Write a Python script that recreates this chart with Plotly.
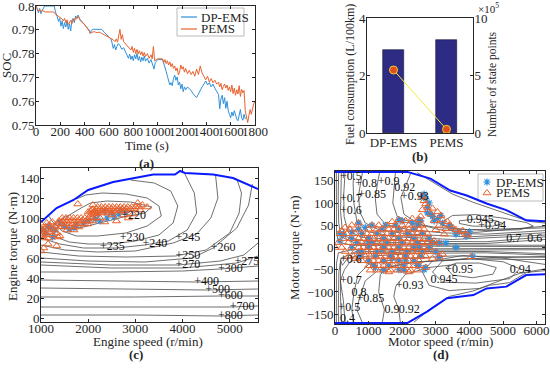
import plotly.graph_objects as go

FONT = "Liberation Serif"
W, H = 550, 369

# ---------------- (a) SOC ----------------
dp_t = [0, 10, 20, 30, 40, 50, 60, 70, 150, 160, 175, 185, 195, 205, 215, 225, 235, 245, 255, 265, 275, 285, 295, 305, 315, 325, 335, 345, 360, 375, 390, 405, 420, 435, 445, 455, 470, 540, 560, 580, 600, 615, 625, 635, 645, 655, 665, 675, 690, 705, 720, 735, 750, 760, 770, 780, 790, 800, 810, 820, 830, 840, 850, 860, 870, 880, 890, 900, 915, 930, 945, 960, 970, 980, 990, 1000, 1040, 1050, 1060, 1070, 1080, 1090, 1100, 1110, 1120, 1130, 1140, 1150, 1160, 1170, 1180, 1190, 1200, 1210, 1220, 1230, 1245, 1260, 1275, 1290, 1305, 1320, 1335, 1350, 1365, 1380, 1395, 1410, 1425, 1440, 1455, 1470, 1485, 1500, 1510, 1520, 1530, 1540, 1550, 1560, 1570, 1580, 1590, 1600, 1610, 1620, 1630, 1640, 1650, 1660, 1670, 1680, 1690, 1700, 1710, 1720]
dp_soc = [0.8000, 0.7985, 0.7972, 0.7990, 0.7968, 0.7980, 0.7992, 0.8000, 0.8000, 0.7975, 0.7955, 0.7935, 0.7948, 0.7915, 0.7938, 0.7905, 0.7930, 0.7912, 0.7935, 0.7902, 0.7925, 0.7895, 0.7940, 0.7948, 0.7930, 0.7958, 0.7950, 0.7962, 0.7945, 0.7935, 0.7925, 0.7918, 0.7905, 0.7900, 0.7885, 0.7898, 0.7902, 0.7902, 0.7890, 0.7880, 0.7870, 0.7862, 0.7845, 0.7822, 0.7838, 0.7815, 0.7830, 0.7842, 0.7835, 0.7818, 0.7825, 0.7810, 0.7795, 0.7780, 0.7798, 0.7775, 0.7790, 0.7770, 0.7795, 0.7778, 0.7800, 0.7772, 0.7788, 0.7765, 0.7785, 0.7770, 0.7790, 0.7768, 0.7780, 0.7760, 0.7775, 0.7752, 0.7735, 0.7762, 0.7770, 0.7775, 0.7775, 0.7760, 0.7745, 0.7725, 0.7705, 0.7690, 0.7668, 0.7678, 0.7665, 0.7695, 0.7710, 0.7688, 0.7702, 0.7668, 0.7680, 0.7652, 0.7672, 0.7640, 0.7660, 0.7648, 0.7660, 0.7652, 0.7645, 0.7632, 0.7625, 0.7615, 0.7630, 0.7648, 0.7660, 0.7672, 0.7685, 0.7668, 0.7678, 0.7660, 0.7672, 0.7655, 0.7642, 0.7628, 0.7568, 0.7610, 0.7625, 0.7590, 0.7615, 0.7570, 0.7600, 0.7560, 0.7545, 0.7530, 0.7555, 0.7538, 0.7560, 0.7535, 0.7525, 0.7518, 0.7545, 0.7565, 0.7530, 0.7520, 0.7545, 0.7525]
pe_t = [0, 10, 20, 30, 40, 50, 60, 75, 100, 145, 155, 170, 185, 200, 215, 225, 235, 245, 255, 265, 275, 285, 295, 305, 315, 325, 335, 345, 355, 365, 380, 395, 410, 425, 440, 450, 460, 480, 500, 520, 540, 560, 580, 600, 620, 635, 650, 660, 670, 680, 690, 700, 710, 720, 735, 750, 765, 780, 790, 800, 810, 820, 830, 840, 850, 860, 870, 880, 890, 900, 915, 930, 945, 955, 965, 975, 990, 1000, 1040, 1050, 1060, 1070, 1080, 1090, 1100, 1110, 1120, 1130, 1140, 1150, 1160, 1170, 1180, 1190, 1200, 1210, 1220, 1230, 1245, 1260, 1275, 1290, 1305, 1320, 1335, 1350, 1365, 1380, 1395, 1410, 1425, 1440, 1455, 1470, 1485, 1500, 1510, 1520, 1530, 1540, 1550, 1560, 1570, 1580, 1590, 1600, 1610, 1620, 1630, 1640, 1650, 1660, 1670, 1680, 1690, 1700, 1710, 1720, 1730, 1740, 1750, 1760, 1770, 1780, 1790, 1800]
pe_soc = [0.8000, 0.7990, 0.7978, 0.7985, 0.7975, 0.7982, 0.7978, 0.7975, 0.7975, 0.7975, 0.7968, 0.7962, 0.7958, 0.7952, 0.7945, 0.7938, 0.7948, 0.7930, 0.7942, 0.7922, 0.7935, 0.7940, 0.7925, 0.7945, 0.7938, 0.7950, 0.7945, 0.7958, 0.7950, 0.7938, 0.7930, 0.7925, 0.7915, 0.7905, 0.7895, 0.7885, 0.7890, 0.7892, 0.7888, 0.7890, 0.7885, 0.7880, 0.7872, 0.7868, 0.7862, 0.7858, 0.7850, 0.7862, 0.7848, 0.7875, 0.7902, 0.7860, 0.7880, 0.7850, 0.7842, 0.7835, 0.7825, 0.7815, 0.7830, 0.7805, 0.7822, 0.7800, 0.7818, 0.7798, 0.7812, 0.7795, 0.7808, 0.7790, 0.7805, 0.7788, 0.7800, 0.7780, 0.7795, 0.7778, 0.7830, 0.7770, 0.7775, 0.7778, 0.7778, 0.7762, 0.7775, 0.7758, 0.7770, 0.7752, 0.7765, 0.7745, 0.7758, 0.7738, 0.7748, 0.7728, 0.7740, 0.7710, 0.7722, 0.7752, 0.7735, 0.7745, 0.7722, 0.7738, 0.7715, 0.7730, 0.7712, 0.7725, 0.7705, 0.7735, 0.7712, 0.7748, 0.7718, 0.7705, 0.7690, 0.7705, 0.7680, 0.7695, 0.7678, 0.7688, 0.7672, 0.7680, 0.7660, 0.7675, 0.7648, 0.7662, 0.7672, 0.7655, 0.7668, 0.7645, 0.7660, 0.7640, 0.7668, 0.7632, 0.7655, 0.7625, 0.7648, 0.7630, 0.7665, 0.7620, 0.7650, 0.7635, 0.7645, 0.7560, 0.7525, 0.7510, 0.7540, 0.7565, 0.7545, 0.7575, 0.7590, 0.7600]

# ---------------- (b) fuel / state points ----------------
strategies = ["DP-EMS", "PEMS"]
fuel_l100km = [2.88, 3.22]
state_points = [548000, 32000]

# ---------------- (c) engine map ----------------
eng_max_speed = [1000, 1330, 1690, 2000, 2530, 3030, 3380, 3840, 3950, 4050, 4650, 5070, 5600]
eng_max_torque = [96, 110, 118, 128, 136, 140, 143.5, 143.5, 147, 145, 143.5, 140, 129]
bsfc_levels = ["220", "230", "235", "240", "245", "250", "260", "270", "275", "300", "400", "500", "600", "700", "800"]
bsfc_speed = [
    [1350, 1600, 1850, 2050, 2400, 2900, 3350, 3200, 2750, 2300, 1900, 1650, 1450, 1350],
    [1150, 1250, 1450, 1750, 2200, 2800, 3250, 3550, 3500, 3250, 2800, 2300, 1950, 1750],
    [1000, 1250, 1600, 2000, 2500, 3000, 3500, 3800, 3900, 3750, 3400, 2900],
    [1000, 1400, 1900, 2600, 3200, 3700, 4100, 4300, 4250, 4050],
    [1000, 1500, 2200, 3000, 3800, 4300, 4600, 4750, 4700],
    [1000, 1800, 2800, 3850, 4500, 5000, 5200, 5250, 5150],
    [1000, 2000, 3200, 4200, 4650, 5150, 5400, 5480],
    [1000, 2500, 3900, 4800, 5300, 5600],
    [1000, 2500, 4000, 5150, 5600],
    [1000, 2500, 4000, 4800, 5600],
    [1000, 2500, 4300, 5600],
    [1000, 2500, 4500, 5600],
    [1000, 3000, 4800, 5600],
    [1000, 3000, 5000, 5600],
    [1000, 3000, 4800, 5600],
]
bsfc_torque = [
    [97, 103, 110, 115, 117, 116, 111, 105, 101, 96, 91, 89, 92, 97],
    [103, 96, 87, 82, 82, 85, 92, 102, 112, 120, 124, 125, 123, 119],
    [88, 82, 76, 74, 74, 77, 83, 95, 112, 127, 135, 138],
    [80, 74, 70, 70, 73, 77, 88, 105, 125, 144],
    [73, 68, 66, 67, 75, 84, 100, 120, 143],
    [66, 62, 61, 62, 68, 85, 105, 125, 139],
    [60, 57, 56, 60, 70, 90, 113, 134],
    [56, 53, 53, 57, 63, 75],
    [53, 50, 50, 55, 62],
    [46, 46, 47, 49, 52],
    [38, 37, 36, 37],
    [30, 29, 28, 29],
    [21, 21, 22, 22],
    [11, 11, 11, 12],
    [3, 3, 2, 3],
]
bsfc_label_speed = [2700, 2670, 2250, 3150, 3850, 3850, 4600, 3850, 5100, 4750, 4250, 4480, 4750, 5000, 4750]
bsfc_label_torque = [102, 80, 71, 74, 80, 62, 70, 53, 56, 49, 36, 28, 22, 11, 2]

c_dp_speed = [1050, 1100, 1250, 1200, 1500, 1600, 1700, 1750, 1900, 2000, 2150, 2250, 2400, 2550, 2650, 2800, 2200, 2350, 1400, 1300, 1150, 2500, 2700]
c_dp_torque = [88, 85, 81, 90, 92, 89, 90, 93, 95, 97, 99, 97, 100, 101, 104, 106, 104, 107, 95, 88, 92, 105, 108]

c_pe_speed = [1000, 1000, 1000, 1030, 1040, 1060, 1080, 1100, 1110, 1140, 1160, 1180, 1200, 1230, 1250, 1280, 1300, 1330, 1360, 1020, 1120, 1060, 1150, 1330, 1000, 1240, 1400,
              1400, 1500, 1600, 1700, 1800,
              1350, 1430, 1510, 1590, 1670, 1750, 1830, 1910, 1990,
              1380, 1460, 1540, 1620, 1700, 1780, 1860, 1940, 2020, 2100,
              1450, 1530, 1610, 1690, 1770, 1850, 1930, 2010, 2090, 2170, 2250,
              2050, 2120, 2000, 2080, 2150,
              2100, 2200, 2300, 2400, 2500,
              2050, 2130, 2210, 2290, 2370, 2450, 2530, 2610, 2690, 2770,
              2100, 2180, 2260, 2340, 2420, 2500, 2580, 2660, 2740, 2820, 2900, 2980,
              2200, 2280, 2360, 2440, 2520, 2600, 2680, 2760, 2840, 2920, 3000, 3080,
              1780, 3150, 3250, 3100, 2950, 2750, 2500, 2600, 2350, 2850, 1700, 1550, 3050, 2100]
c_pe_torque = [82, 86, 90, 84, 88, 80, 86, 91, 83, 88, 80, 93, 86, 90, 83, 88, 92, 85, 81, 93, 95, 70, 74, 72, 67, 96, 82,
               91, 91, 91, 91, 91,
               94, 94, 94, 94, 94, 94, 94, 94, 94,
               97, 97, 97, 97, 97, 97, 97, 97, 97, 97,
               100, 100, 100, 100, 100, 100, 100, 100, 100, 100, 100,
               103, 104, 106, 108, 106,
               105, 105, 105, 105, 105,
               107, 107, 107, 107, 107, 107, 107, 107, 107, 107,
               109, 109, 109, 109, 109, 109, 109, 109, 109, 109, 109, 109,
               111, 111, 111, 111, 111, 111, 111, 111, 111, 111, 111, 111,
               114, 113, 111, 108, 104, 103, 103, 97, 96, 100, 88, 88, 115, 113]

# ---------------- (d) motor map ----------------
mot_max_speed = [0, 2150, 2840, 3430, 3920, 4510, 5100, 5690, 6250]
mot_max_torque = [170, 170, 155, 128, 117, 99, 84, 61, 59]
mot_min_speed = [0, 2150, 2740, 3330, 4120, 4510, 5100, 5690, 6250]
mot_min_torque = [-170, -170, -144, -114, -107, -92, -88, -62, -60]

eff_speed = [
    [40, 35, 45, 100, 500, 2500, 6250],
    [110, 95, 110, 180, 600, 2500, 6250],
    [190, 170, 165, 210, 340, 900, 2500, 4500, 5640, 6250],
    [300, 260, 270, 380, 800, 2500, 4500, 5150, 6250],
    [560, 540, 560, 650, 950, 1800, 3500, 6250],
    [820, 700, 740, 900, 1300, 2200, 4000, 6250],
    [1330, 1270, 1200, 1250, 1500, 2200, 3200, 4500, 6250],
    [1800, 1760, 1720, 1850, 2300, 3000, 4000, 6250],
    [2250, 1960, 2050, 2500, 3100, 4200, 6250],
    [2450, 2900, 3500, 4100, 4700, 5300, 5750, 6250],
    [3200, 3500, 4200, 5000, 5700, 5900, 5500, 4500, 3600, 3200, 3200],
    [3700, 4200, 4800, 5000, 4700, 4100, 3700, 3700],
    [40, 35, 45, 100, 500, 2500, 6250],
    [110, 100, 115, 180, 600, 2500, 6250],
    [190, 165, 165, 220, 380, 900, 2500, 4500, 6250],
    [300, 250, 160, 280, 450, 900, 2500, 4500, 6250],
    [560, 500, 560, 680, 1000, 1800, 3500, 6250],
    [820, 650, 720, 900, 1300, 2200, 4000, 6250],
    [1400, 1470, 1300, 1350, 1700, 2500, 4000, 6250],
    [1950, 1900, 1750, 1810, 2100, 2800, 3600],
    [2350, 2850, 3400, 4100, 4600, 5200, 5700, 6250],
    [6250, 5000, 3800, 2900, 2600, 2800, 3400, 4300, 5000, 5500, 6250],
    [2900, 3200, 4000, 5000, 5500, 5200, 4200, 3200, 2900],
    [3300, 3600, 4300, 4800, 4700, 4100, 3500, 3300],
]
eff_torque = [
    [170, 90, 35, 12, 5, 3, 2],
    [170, 115, 55, 24, 10, 6, 5],
    [170, 110, 81, 45, 24, 14, 9, 9, 15, 18],
    [170, 120, 70, 38, 23, 14, 13, 17, 24],
    [170, 143, 100, 60, 36, 24, 18, 28],
    [170, 117, 80, 55, 40, 30, 24, 33],
    [170, 147, 110, 75, 52, 40, 33, 30, 38],
    [170, 134, 100, 70, 55, 45, 40, 44],
    [166, 113, 75, 52, 40, 34, 48],
    [168, 147, 120, 102, 86, 71, 59, 55],
    [58, 72, 74, 66, 56, 48, 40, 38, 42, 50, 58],
    [60, 64, 60, 54, 48, 48, 54, 60],
    [-170, -100, -35, -12, -5, -3, -2],
    [-170, -137, -55, -24, -10, -6, -5],
    [-170, -110, -28, -40, -24, -14, -9, -9, -14],
    [-170, -120, -75, -50, -32, -20, -13, -12, -17],
    [-170, -140, -103, -62, -38, -26, -19, -22],
    [-170, -140, -116, -75, -50, -34, -26, -27],
    [-172, -140, -100, -60, -42, -32, -25, -20],
    [-172, -140, -110, -87, -60, -45, -38],
    [-168, -137, -110, -98, -85, -79, -56, -52],
    [-38, -24, -18, -30, -55, -85, -97, -92, -72, -58, -48],
    [-55, -30, -25, -32, -48, -70, -80, -78, -55],
    [-45, -35, -35, -45, -60, -68, -62, -45],
]
eff_labels = ["+0.5", "+0.8", "+0.9", "0.92", "+0.85", "+0.7", "+0.93", "+0.6", "0.945", "+0.94", "0.7", "0.6",
              "+0.6", "+0.95", "0.94", "0.945", "+0.7", "+0.93", "0.8", "+0.85", "+0.5", "0.9", "0.92", "0.4"]
eff_label_speed = [150, 600, 1270, 1760, 690, 150, 1960, 150, 3920, 4260, 5100, 5720,
                   150, 3280, 5200, 2840, 150, 1810, 490, 640, 100, 1470, 1900, 150]
eff_label_torque = [158, 143, 147, 134, 117, 110, 113, 81, 61, 48, 19, 19,
                    -28, -51, -51, -73, -75, -87, -103, -116, -137, -140, -140, -160]

d_row_torque = [50, 41, 31, 20, 11, 0, -9, -20, -30, -41, -51]
d_row_speeds = [
    [1100, 1300, 1550, 1800, 2000, 2200, 2450, 2600],
    [450, 700, 1000, 1250, 1400, 1600, 1750, 1900, 2050, 2200, 2350, 2500, 2650],
    [150, 350, 600, 800, 950, 1100, 1250, 1400, 1550, 1700, 1850, 2000, 2150, 2300, 2450, 2600, 2750],
    [250, 500, 700, 850, 1000, 1150, 1300, 1450, 1600, 1750, 1900, 2050, 2200, 2350, 2500, 2650, 2800],
    [100, 400, 650, 800, 950, 1100, 1250, 1400, 1550, 1700, 1850, 2000, 2150, 2300, 2450, 2600, 2750, 2900],
    [0, 200, 500, 700, 850, 1000, 1150, 1300, 1450, 1600, 1750, 1900, 2050, 2200, 2350, 2500, 2650, 2800],
    [300, 600, 800, 950, 1100, 1250, 1400, 1550, 1700, 1850, 2000, 2150, 2300, 2450, 2600, 2750],
    [550, 750, 900, 1050, 1200, 1350, 1500, 1650, 1800, 1950, 2100, 2250, 2400, 2550, 2700],
    [800, 1000, 1150, 1300, 1450, 1600, 1750, 1900, 2050, 2200, 2350, 2500],
    [1000, 1150, 1300, 1450, 1600, 1750, 1900, 2050, 2200, 2350, 2500],
    [1050, 1250, 1450, 1650, 1850, 2050, 2250, 2450],
]
d_pe_extra_speed = [2600, 2650, 2700, 2750, 2600, 2900, 2850, 2550, 3050, 3150, 3200, 3350, 3400, 3500, 3600, 3700, 3800, 3900, 3950, 3300, 3100, 2950, 3000, 3250, 2500, 2300, 2100, 1900, 1700, 500, 700, 300, 200, 3000, 3200, 2900, 3100, 4050, 2950, 3100, 2200, 1600, 2700, 600, 400]
d_pe_extra_torque = [115, 105, 98, 90, 85, 88, 75, 70, 80, 72, 62, 58, 50, 45, 40, 35, 38, 30, 28, 42, 50, 60, 40, 30, 62, 65, 60, 62, 58, 50, 55, 45, 38, -10, -15, -25, -22, -21, 15, 10, -55, -55, -45, -25, -20]
d_dp_speed = [2650, 2700, 2800, 2750, 2900, 3050, 3200, 3450, 3600, 3900, 4000, 2550, 2300, 2000, 1500, 900, 500, 250, 150, 2650, 2450, 2100, 1700, 4100, 3600, 3300, 1200, 1900, 700, 2500, 2800, 1000, 1400, 2200]
d_dp_torque = [120, 110, 100, 78, 70, 65, 55, 45, 30, 25, 35, 60, 55, 60, 50, 45, 35, 30, 15, -50, -40, -30, -25, -20, 0, 10, -45, -50, -10, 0, 20, 10, -5, 30]

# ---------------- build ----------------
BLUE = "#2f90dc"
ORANGE = "#e8622e"
GRAY = "#4a4a4a"
AXC = "#262626"


def px_x(p):
    return p / W


def px_y(p):
    return 1 - p / H


DP_MARK = dict(symbol="asterisk-open", size=6, color=BLUE, line=dict(color=BLUE, width=1.2))
PE_MARK = dict(symbol="triangle-up-open", size=7, color=ORANGE, line=dict(color=ORANGE, width=1))

fig = go.Figure()

# (a)
fig.add_trace(go.Scatter(x=dp_t, y=dp_soc, mode="lines", name="DP-EMS", line=dict(color=BLUE, width=1),
                         xaxis="x", yaxis="y", showlegend=False))
fig.add_trace(go.Scatter(x=pe_t, y=pe_soc, mode="lines", name="PEMS", line=dict(color=ORANGE, width=1),
                         xaxis="x", yaxis="y", showlegend=False))

# (b)
fig.add_trace(go.Bar(x=strategies, y=fuel_l100km, width=0.4, marker=dict(color="#2e2b85", line=dict(color="#111133", width=0.6)),
                     xaxis="x2", yaxis="y2", showlegend=False))
fig.add_trace(go.Scatter(x=strategies, y=state_points, mode="lines+markers", line=dict(color="#f3ea3a", width=1),
                         marker=dict(size=8, color="#e0501c", line=dict(color="#f0cf30", width=1)),
                         xaxis="x2", yaxis="y5", showlegend=False))

# (c)
for sp, tq in zip(bsfc_speed, bsfc_torque):
    fig.add_trace(go.Scatter(x=sp, y=tq, mode="lines", line=dict(color=GRAY, width=0.8),
                             xaxis="x3", yaxis="y3", showlegend=False, hoverinfo="skip"))
fig.add_trace(go.Scatter(x=c_dp_speed, y=c_dp_torque, mode="markers", marker=DP_MARK,
                         xaxis="x3", yaxis="y3", showlegend=False))
fig.add_trace(go.Scatter(x=c_pe_speed, y=c_pe_torque, mode="markers", marker=PE_MARK,
                         xaxis="x3", yaxis="y3", showlegend=False))
fig.add_trace(go.Scatter(x=eng_max_speed, y=eng_max_torque, mode="lines", line=dict(color="#0a1aff", width=2),
                         xaxis="x3", yaxis="y3", showlegend=False))
fig.add_trace(go.Scatter(x=bsfc_label_speed, y=bsfc_label_torque, mode="text",
                         text=["+" + s for s in bsfc_levels], textposition="middle right",
                         textfont=dict(family=FONT, size=12, color="#111111"),
                         xaxis="x3", yaxis="y3", showlegend=False, cliponaxis=False))

# (d)
for sp, tq in zip(eff_speed, eff_torque):
    fig.add_trace(go.Scatter(x=sp, y=tq, mode="lines", line=dict(color=GRAY, width=0.8),
                             xaxis="x4", yaxis="y4", showlegend=False, hoverinfo="skip"))
d_pe_speed = []
d_pe_torque = []
for tq, row in zip(d_row_torque, d_row_speeds):
    d_pe_speed += row
    d_pe_torque += [tq] * len(row)
d_pe_speed += d_pe_extra_speed
d_pe_torque += d_pe_extra_torque
d_dp_all_speed = d_dp_speed + d_pe_speed[::3]
d_dp_all_torque = d_dp_torque + d_pe_torque[::3]
fig.add_trace(go.Scatter(x=d_dp_all_speed, y=d_dp_all_torque, mode="markers", marker=DP_MARK,
                         xaxis="x4", yaxis="y4", showlegend=False))
fig.add_trace(go.Scatter(x=d_pe_speed, y=d_pe_torque, mode="markers", marker=PE_MARK,
                         xaxis="x4", yaxis="y4", showlegend=False))
fig.add_trace(go.Scatter(x=mot_max_speed, y=mot_max_torque, mode="lines", line=dict(color="#0a1aff", width=2),
                         xaxis="x4", yaxis="y4", showlegend=False))
fig.add_trace(go.Scatter(x=mot_min_speed, y=mot_min_torque, mode="lines", line=dict(color="#0a1aff", width=2),
                         xaxis="x4", yaxis="y4", showlegend=False))
fig.add_trace(go.Scatter(x=eff_label_speed, y=eff_label_torque, mode="text", text=eff_labels,
                         textposition="middle right", textfont=dict(family=FONT, size=12, color="#111111"),
                         xaxis="x4", yaxis="y4", showlegend=False, cliponaxis=False))

# legend keys drawn on a full-page pixel overlay (x5 / y6)
fig.add_trace(go.Scatter(x=[181, 197], y=[17, 17], mode="lines", line=dict(color=BLUE, width=1.2),
                         xaxis="x5", yaxis="y6", showlegend=False, hoverinfo="skip"))
fig.add_trace(go.Scatter(x=[181, 197], y=[29, 29], mode="lines", line=dict(color=ORANGE, width=1.2),
                         xaxis="x5", yaxis="y6", showlegend=False, hoverinfo="skip"))
fig.add_trace(go.Scatter(x=[487], y=[182], mode="markers", marker=DP_MARK,
                         xaxis="x5", yaxis="y6", showlegend=False, hoverinfo="skip"))
fig.add_trace(go.Scatter(x=[487], y=[193], mode="markers", marker=PE_MARK,
                         xaxis="x5", yaxis="y6", showlegend=False, hoverinfo="skip"))


def axis(domain, anchor, rng, tickvals=None, ticktext=None, mirror="ticks", standoff=0, **kw):
    d = dict(domain=domain, anchor=anchor, range=rng, showline=True, mirror=mirror, linecolor=AXC,
             linewidth=0.8, ticks="inside", ticklen=3, tickcolor=AXC, tickwidth=0.8, showgrid=False,
             zeroline=False, tickfont=dict(family=FONT, size=13, color=AXC), automargin=False,
             ticklabelstandoff=standoff, ticklabeloverflow="allow", tickangle=0)
    if tickvals is not None:
        d["tickvals"] = tickvals
    if ticktext is not None:
        d["ticktext"] = ticktext
    d.update(kw)
    return d


a_dom_x = [px_x(36), px_x(255)]
a_dom_y = [px_y(125), px_y(6)]
b_dom_x = [px_x(367), px_x(473)]
b_dom_y = [px_y(133), px_y(18)]
c_dom_x = [px_x(41), px_x(258)]
c_dom_y = [px_y(322), px_y(168)]
d_dom_x = [px_x(335), px_x(545)]
d_dom_y = [px_y(324), px_y(171)]

XS = -6
YS = -2
fig.update_layout(
    width=W, height=H, margin=dict(l=0, r=0, t=0, b=0),
    paper_bgcolor="white", plot_bgcolor="rgba(0,0,0,0)",
    font=dict(family=FONT, size=13, color=AXC),
    showlegend=False,
    xaxis=axis(a_dom_x, "y", [0, 1800], list(range(0, 1801, 200)), standoff=XS),
    yaxis=axis(a_dom_y, "x", [0.75, 0.80], [0.75, 0.76, 0.77, 0.78, 0.79, 0.80],
               ["0.75", "0.76", "0.77", "0.78", "0.79", "0.8"], standoff=YS),
    xaxis2=axis(b_dom_x, "y2", [-0.5, 1.5], mirror=True, type="category", ticks="", standoff=-3),
    yaxis2=axis(b_dom_y, "x2", [0, 4], [0, 2, 4], mirror=False, standoff=YS),
    yaxis5=axis(b_dom_y, "x2", [0, 1000000], [0, 500000, 1000000], ["0", "5", "10"], mirror=False,
                overlaying="y2", side="right", standoff=YS),
    xaxis3=axis(c_dom_x, "y3", [1000, 5600], [1000, 2000, 3000, 4000, 5000], standoff=XS),
    yaxis3=axis(c_dom_y, "x3", [-4, 150], list(range(0, 141, 20)), standoff=YS),
    xaxis4=axis(d_dom_x, "y4", [0, 6250], list(range(0, 6001, 1000)), standoff=XS),
    yaxis4=axis(d_dom_y, "x4", [-172, 172], [-150, -100, -50, 0, 50, 100, 150], standoff=YS),
    xaxis5=dict(domain=[0, 1], range=[0, W], visible=False, anchor="y6", fixedrange=True),
    yaxis6=dict(domain=[0, 1], range=[H, 0], visible=False, anchor="x5", fixedrange=True),
    bargap=0,
)

shapes = [
    dict(type="rect", xref="paper", yref="paper", x0=px_x(177), x1=px_x(244), y0=px_y(36), y1=px_y(8),
         line=dict(color="#aaaaaa", width=0.8), fillcolor="white", layer="below"),
    dict(type="rect", xref="paper", yref="paper", x0=px_x(478), x1=px_x(543), y0=px_y(201), y1=px_y(174),
         line=dict(color="#aaaaaa", width=0.8), fillcolor="white", layer="below"),
]

ann = []


def txt(x, y, s, angle=0, bold=False, size=13, anchor="center"):
    ann.append(dict(x=px_x(x), y=px_y(y), xref="paper", yref="paper", text=("<b>%s</b>" % s) if bold else s,
                    showarrow=False, textangle=angle, font=dict(family=FONT, size=size, color=AXC),
                    xanchor=anchor, yanchor="middle"))


txt(7, 66, "SOC", -90)
txt(147, 146, "Time (s)")
txt(146, 163, "(a)", bold=True)
txt(199, 17, "DP-EMS", anchor="left")
txt(199, 29, "PEMS", anchor="left")
txt(350, 75, "Fuel consumption (L/100km)", -90, size=12)
txt(492, 84, "Number of state points", -90, size=11.5)
txt(488, 8, "×10<sup>5</sup>", size=11)
txt(420, 156, "(b)", bold=True)
txt(12, 247, "Engine torque (N·m)", -90)
txt(148, 341, "Engine speed (r/min)")
txt(136, 354, "(c)", bold=True)
txt(494, 182, "DP-EMS", anchor="left")
txt(494, 193, "PEMS", anchor="left")
txt(294, 248, "Motor torque (N·m)", -90)
txt(440, 341, "Motor speed (r/min)")
txt(441, 354, "(d)", bold=True)
fig.update_layout(annotations=ann, shapes=shapes)

fig.write_html("out.html", config={"displayModeBar": False},
               post_script="document.body.style.margin='0px';document.body.style.overflow='hidden';")
